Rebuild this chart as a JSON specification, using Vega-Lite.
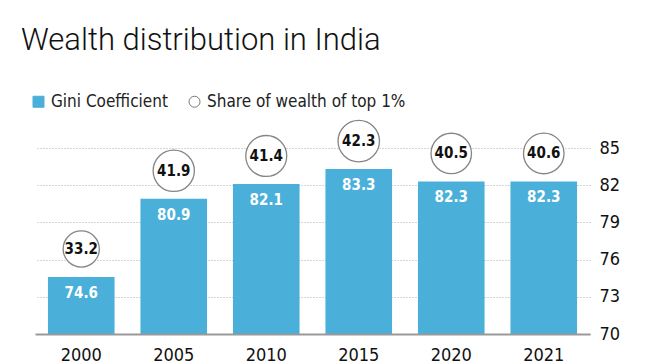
{
  "$schema": "https://vega.github.io/schema/vega-lite/v6.json",
  "width": 555,
  "height": 186,
  "autosize": {"type": "none"},
  "padding": {"left": 35, "top": 148, "right": 70, "bottom": 30},
  "background": "white",
  "config": {
    "font": "Liberation Sans Narrow, DejaVu Sans Condensed, sans-serif",
    "view": {"stroke": null}
  },
  "title": {
    "text": "Wealth distribution in India",
    "anchor": "start",
    "frame": "group",
    "font": "Roboto",
    "fontWeight": 300,
    "fontSize": 31,
    "color": "#111111",
    "dx": -14,
    "dy": -36,
    "offset": 0
  },
  "data": {
    "values": [
      {"year": "2000", "gini": 74.6, "share": 33.2, "series": "Gini Coefficient"},
      {"year": "2005", "gini": 80.9, "share": 41.9, "series": "Gini Coefficient"},
      {"year": "2010", "gini": 82.1, "share": 41.4, "series": "Gini Coefficient"},
      {"year": "2015", "gini": 83.3, "share": 42.3, "series": "Gini Coefficient"},
      {"year": "2020", "gini": 82.3, "share": 40.5, "series": "Gini Coefficient"},
      {"year": "2021", "gini": 82.3, "share": 40.6, "series": "Gini Coefficient"}
    ]
  },
  "encoding": {
    "x": {
      "field": "year",
      "type": "nominal",
      "scale": {"paddingInner": 0.28, "paddingOuter": 0.14},
      "axis": {
        "orient": "bottom",
        "title": null,
        "labelAngle": 0,
        "labelFontSize": 18,
        "labelColor": "#111111",
        "labelBaseline": "alphabetic",
        "labelPadding": 26,
        "ticks": false,
        "domain": true,
        "domainColor": "#999999",
        "domainWidth": 2,
        "grid": false,
        "zindex": 1
      }
    },
    "y": {
      "field": "gini",
      "type": "quantitative",
      "scale": {"domain": [70, 85], "zero": false, "nice": false},
      "axis": {
        "orient": "right",
        "title": null,
        "values": [70, 73, 76, 79, 82, 85],
        "labelOverlap": false,
        "labelFontSize": 18,
        "labelColor": "#111111",
        "labelPadding": 9,
        "ticks": false,
        "domain": false,
        "grid": true,
        "gridDash": [1, 2],
        "gridColor": "#aaaaaa",
        "gridWidth": 1
      }
    }
  },
  "layer": [
    {
      "mark": {"type": "bar", "clip": true, "color": "#4AAFD9"},
      "encoding": {
        "y2": {"datum": 70},
        "color": {
          "field": "series",
          "type": "nominal",
          "scale": {
            "domain": ["Gini Coefficient", "Share of wealth of top 1%"],
            "range": ["#4AAFD9", "#ffffff"]
          },
          "legend": {
            "orient": "none",
            "legendX": -5,
            "legendY": -55,
            "direction": "horizontal",
            "title": null,
            "symbolType": "square",
            "symbolSize": 121,
            "labelFontSize": 17,
            "labelColor": "#222222",
            "labelOffset": 4,
            "labelLimit": 300,
            "columnPadding": 18,
            "symbolStrokeWidth": 1,
            "encode": {
              "symbols": {
                "update": {
                  "shape": {"signal": "datum.value === 'Gini Coefficient' ? 'square' : 'circle'"},
                  "stroke": {"signal": "datum.value === 'Gini Coefficient' ? '#4AAFD9' : '#777777'"},
                  "fill": {"signal": "datum.value === 'Gini Coefficient' ? '#4AAFD9' : '#ffffff'"},
                  "opacity": {"value": 1}
                }
              }
            }
          }
        }
      }
    },
    {
      "mark": {"type": "text", "baseline": "alphabetic", "dy": 21, "color": "white", "fontWeight": "bold", "fontSize": 15},
      "encoding": {
        "text": {"field": "gini", "type": "quantitative", "format": ".1f"}
      }
    },
    {
      "mark": {"type": "point", "shape": "circle", "filled": true, "fill": "white", "stroke": "#858585", "strokeWidth": 1.3, "opacity": 1, "yOffset": -28},
      "encoding": {
        "size": {"field": "share", "type": "quantitative", "scale": {"domain": [33, 43], "range": [1300, 1750]}, "legend": null}
      }
    },
    {
      "mark": {"type": "text", "baseline": "middle", "dy": -28, "color": "#111111", "fontWeight": "bold", "fontSize": 15},
      "encoding": {
        "text": {"field": "share", "type": "quantitative", "format": ".1f"}
      }
    }
  ]
}
